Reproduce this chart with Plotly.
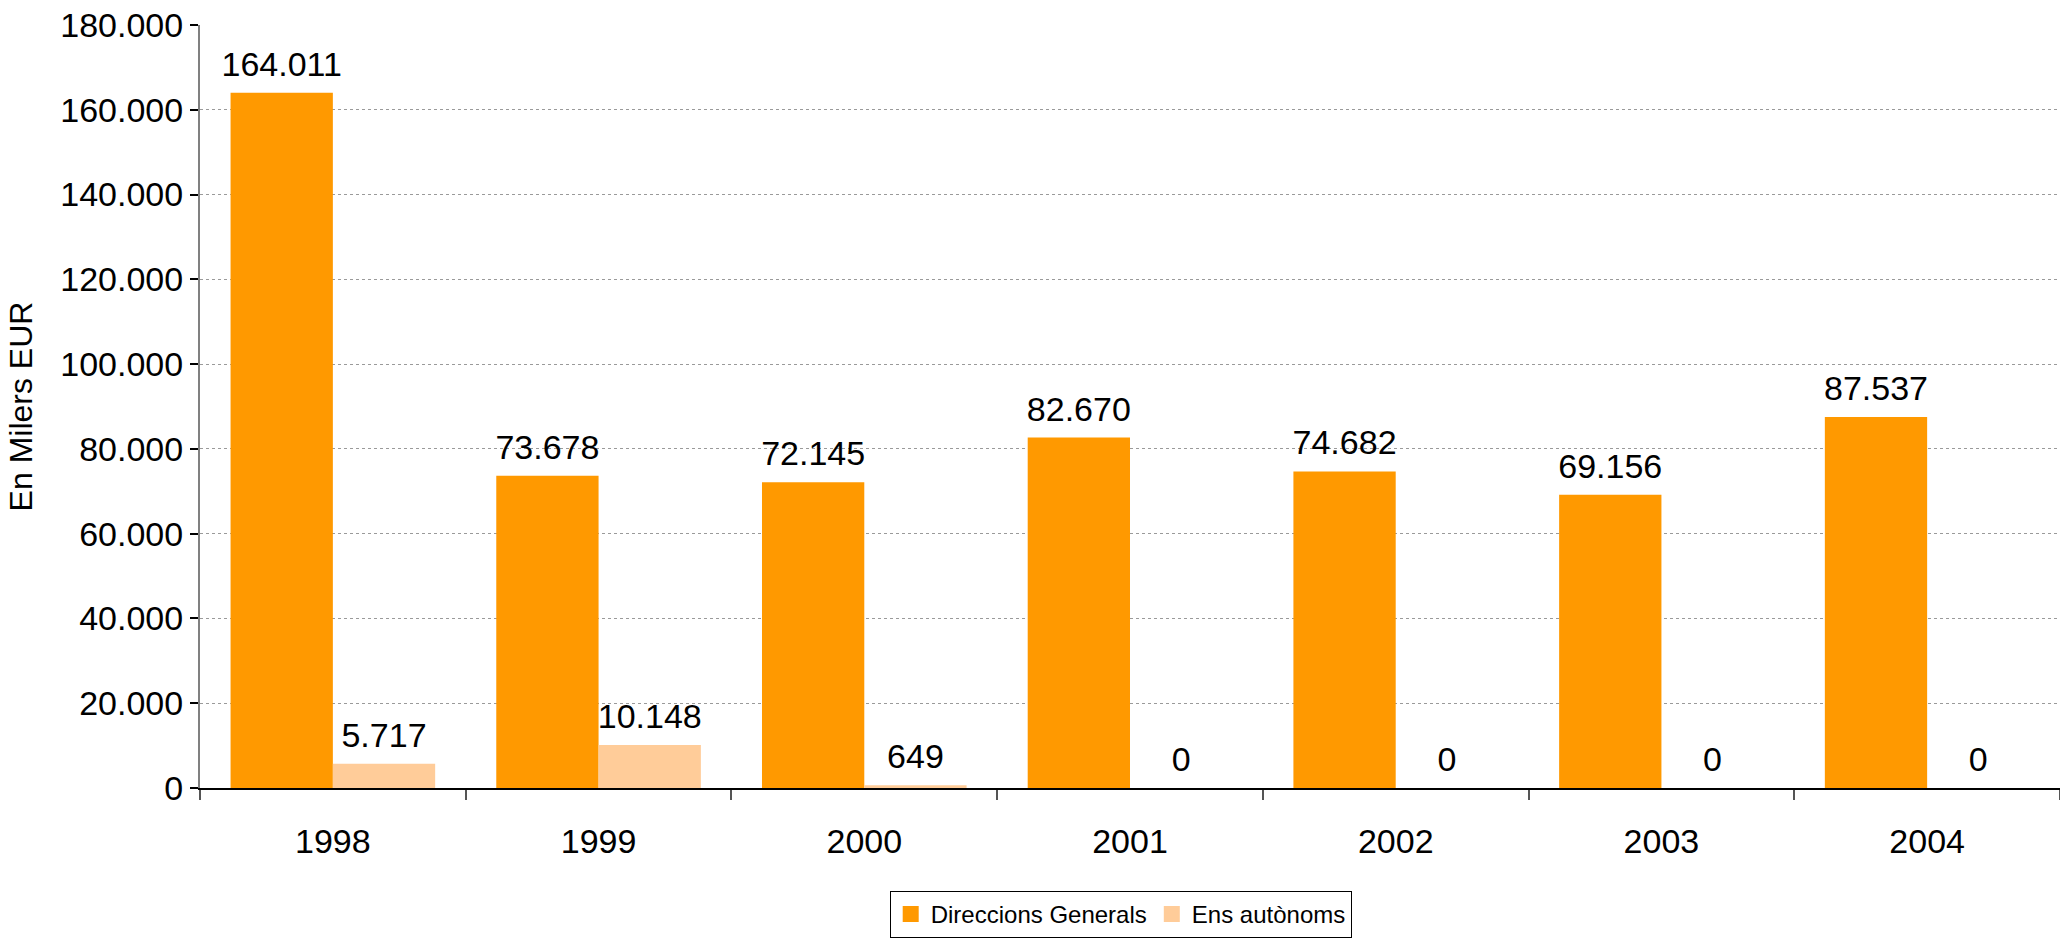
import plotly.graph_objects as go

years = ["1998", "1999", "2000", "2001", "2002", "2003", "2004"]
direccions = [164011, 73678, 72145, 82670, 74682, 69156, 87537]
ens = [5717, 10148, 649, 0, 0, 0, 0]
y_ticks = [0, 20000, 40000, 60000, 80000, 100000, 120000, 140000, 160000, 180000]

FONT = "Liberation Sans, Arial, sans-serif"
C1 = "#FF9900"
C2 = "#FFCC99"

fig = go.Figure()
fig.add_trace(go.Bar(x=years, y=direccions, name="Direccions Generals",
                     marker=dict(color=C1, line=dict(width=0)),
                     offsetgroup="a", hoverinfo="skip", showlegend=False))
fig.add_trace(go.Bar(x=years, y=ens, name="Ens autònoms",
                     marker=dict(color=C2, line=dict(width=0)),
                     offsetgroup="b", hoverinfo="skip", showlegend=False))
# value labels
for vals, grp in ((direccions, "a"), (ens, "b")):
    fig.add_trace(go.Scatter(x=years, y=vals, mode="markers+text",
                             text=[f"{v:,}".replace(",", ".") for v in vals],
                             textposition="top center",
                             textfont=dict(family=FONT, size=34, color="#000"),
                             marker=dict(size=12, opacity=0),
                             offsetgroup=grp, showlegend=False,
                             hoverinfo="skip", cliponaxis=False))
# legend entries (square swatches)
for name, col in (("Direccions Generals", C1), ("Ens autònoms", C2)):
    fig.add_trace(go.Scatter(x=[None], y=[None], mode="markers", name=name,
                             marker=dict(symbol="square", size=16, color=col),
                             hoverinfo="skip"))

fig.update_layout(
    width=2060, height=942,
    margin=dict(l=200, r=0, t=25, b=154, autoexpand=False),
    paper_bgcolor="white", plot_bgcolor="white",
    barmode="group", bargap=0.23, bargroupgap=0,
    scattermode="group", scattergap=0.23,
    separators=",.",
    font=dict(family=FONT, size=34, color="#000"),
    showlegend=True,
    legend=dict(orientation="h", x=0.495, xanchor="center", y=-0.135, yanchor="top",
                bordercolor="#000", borderwidth=1, bgcolor="white",
                font=dict(family=FONT, size=24, color="#000"),
                itemwidth=30, tracegroupgap=0),
)
fig.update_yaxes(range=[0, 180010], tickvals=y_ticks, tickformat=",d",
                 automargin=False, ticklabeloverflow="allow",
                 showgrid=True, gridcolor="#9a9a9a", griddash="dot", gridwidth=1,
                 showline=True, linecolor="#808080", linewidth=2,
                 ticks="outside", ticklen=8, tickcolor="#000", tickwidth=2,
                 ticklabelstandoff=0,
                 zeroline=False,
                 title=dict(text="En Milers EUR", font=dict(family=FONT, size=32), standoff=18),
                 tickfont=dict(family=FONT, size=34))
fig.update_xaxes(type="category", automargin=False,
                 showline=True, linecolor="#000", linewidth=2,
                 ticks="outside", tickson="boundaries", ticklen=10, tickcolor="#555", tickwidth=2,
                 ticklabelstandoff=22,
                 tickfont=dict(family=FONT, size=34), showgrid=False)

# remove the browser's default 8px body margin so the figure fills the window
fig.write_html("out.html", config={"displayModeBar": False},
               post_script="document.body.style.margin='0';")
